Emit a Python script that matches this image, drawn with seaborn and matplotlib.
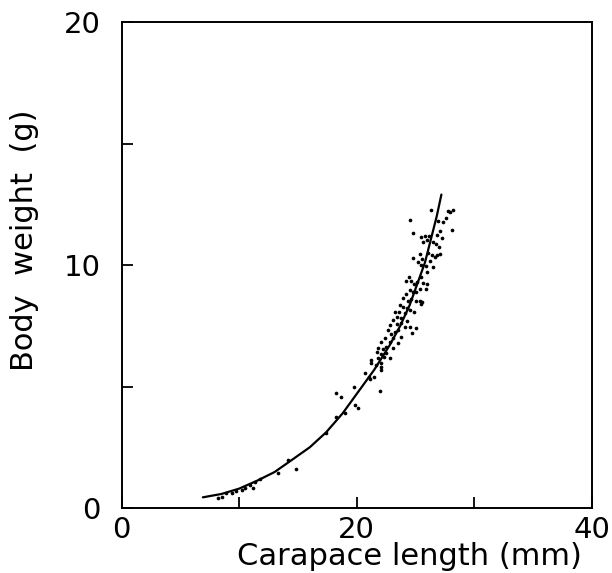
import numpy as np
import pandas as pd
import seaborn as sns
import matplotlib.pyplot as plt
from matplotlib.ticker import MultipleLocator

# Fitted length-weight curve
curve_length = [6.9, 8.5, 10.0, 11.5, 13.0, 14.3, 16.0, 17.4, 18.8, 20.3,
                21.5, 22.8, 23.7, 24.5, 25.8, 26.8, 27.2]
curve_weight = [0.44, 0.58, 0.80, 1.12, 1.48, 1.92, 2.50, 3.12, 3.90, 4.90,
                5.70, 6.70, 7.50, 8.35, 10.10, 12.00, 12.90]

# Observed crabs (carapace length mm, body weight g)
obs_length = [
    26.35, 24.51, 27.92, 28.20, 27.77, 27.63, 27.35, 28.14, 24.79, 26.92,
    25.50, 25.79, 26.16, 25.65, 25.99, 26.84, 27.06, 27.21, 26.50, 26.78,
    27.01, 25.36, 24.79, 25.59, 26.07, 26.44, 26.64, 26.84, 27.12, 25.22,
    25.50, 25.87, 26.27, 26.50, 25.99, 24.43, 24.17, 24.65, 24.85, 25.13,
    25.50, 25.65, 25.99, 25.87, 25.36, 25.08, 24.79, 24.51, 24.17, 23.94,
    24.37, 24.65, 25.02, 25.36, 25.59, 25.50, 23.66, 23.94, 24.28, 24.57,
    24.85, 24.09, 23.60, 23.23, 23.38, 23.80, 24.23, 23.09, 23.43, 23.72,
    24.09, 24.51, 25.02, 24.74, 22.81, 22.67, 22.95, 23.23, 23.52, 23.80,
    23.09, 22.38, 22.10, 22.81, 23.52, 22.52, 22.24, 21.82, 23.09, 22.47,
    22.10, 21.73, 22.81, 22.30, 21.82, 21.25, 22.10, 21.67, 21.25, 22.02,
    22.10, 20.68, 21.05, 21.45, 21.16, 19.74, 21.96, 18.69, 19.83, 20.11,
    18.98, 18.27, 18.21, 17.42, 14.15, 14.81, 13.30, 11.74, 11.32, 11.17,
    10.89, 10.47, 10.19, 9.76, 9.34, 8.91, 8.49, 8.20,
]
obs_weight = [
    12.26, 11.85, 12.20, 12.26, 12.22, 11.95, 11.76, 11.44, 11.33, 11.81,
    11.17, 11.21, 11.21, 10.96, 11.03, 11.23, 11.40, 11.13, 10.96, 10.85,
    10.76, 10.44, 10.30, 10.25, 10.48, 10.41, 10.34, 10.41, 10.44, 10.14,
    10.00, 9.97, 10.16, 9.93, 9.73, 9.52, 9.34, 9.34, 9.20, 9.31,
    9.52, 9.25, 9.20, 9.01, 9.01, 8.90, 8.90, 8.97, 8.79, 8.63,
    8.52, 8.60, 8.52, 8.52, 8.46, 8.38, 8.35, 8.29, 8.22, 8.15,
    8.05, 8.01, 8.08, 8.08, 7.87, 7.81, 7.70, 7.74, 7.56, 7.60,
    7.46, 7.46, 7.39, 7.19, 7.53, 7.33, 7.15, 7.23, 7.33, 7.05,
    6.98, 6.98, 6.85, 6.85, 6.78, 6.64, 6.54, 6.57, 6.57, 6.37,
    6.32, 6.43, 6.16, 6.23, 6.16, 6.09, 5.95, 5.88, 5.95, 5.68,
    5.82, 5.54, 5.41, 5.41, 5.31, 4.99, 4.82, 4.58, 4.24, 4.13,
    3.90, 4.72, 3.76, 3.10, 1.98, 1.59, 1.45, 1.18, 1.08, 0.81,
    0.95, 0.81, 0.74, 0.71, 0.63, 0.60, 0.44, 0.40,
]

x_ticks = [0, 20, 40]
y_ticks = [0, 10, 20]

sns.set_theme(style="ticks")
plt.rcParams["font.family"] = ["DejaVu Sans"]

fig = plt.figure(figsize=(6.12, 5.73), dpi=100)
ax = fig.add_axes([0.199, 0.1134, 0.768, 0.8482])

obs = pd.DataFrame({"length": obs_length, "weight": obs_weight})
fit = pd.DataFrame({"length": curve_length, "weight": curve_weight})

sns.scatterplot(data=obs, x="length", y="weight", ax=ax,
                color="black", s=7, linewidth=0, zorder=3)
sns.lineplot(data=fit, x="length", y="weight", ax=ax,
             color="black", linewidth=1.6, zorder=4)

ax.set_xlim(0, 40)
ax.set_ylim(0, 20)
ax.set_xticks(x_ticks)
ax.set_yticks(y_ticks)
ax.xaxis.set_minor_locator(MultipleLocator(10))
ax.yaxis.set_minor_locator(MultipleLocator(5))
ax.tick_params(which="both", direction="in", length=8, width=1.3,
               color="black", labelcolor="black")
ax.tick_params(axis="x", labelsize=21, pad=6)
ax.tick_params(axis="y", labelsize=21, pad=15)

for sp in ax.spines.values():
    sp.set_visible(True)
    sp.set_linewidth(1.4)
    sp.set_color("black")

ax.set_xlabel("")
ax.set_ylabel("")
ax.text(0.613, -0.099, "Carapace length (mm)", transform=ax.transAxes,
        ha="center", va="center", fontsize=22, color="black")
ax.text(-0.206, 0.551, "Body  weight  (g)", transform=ax.transAxes,
        ha="center", va="center", rotation=90, fontsize=22, color="black")

fig.savefig("out.png", dpi=100)
